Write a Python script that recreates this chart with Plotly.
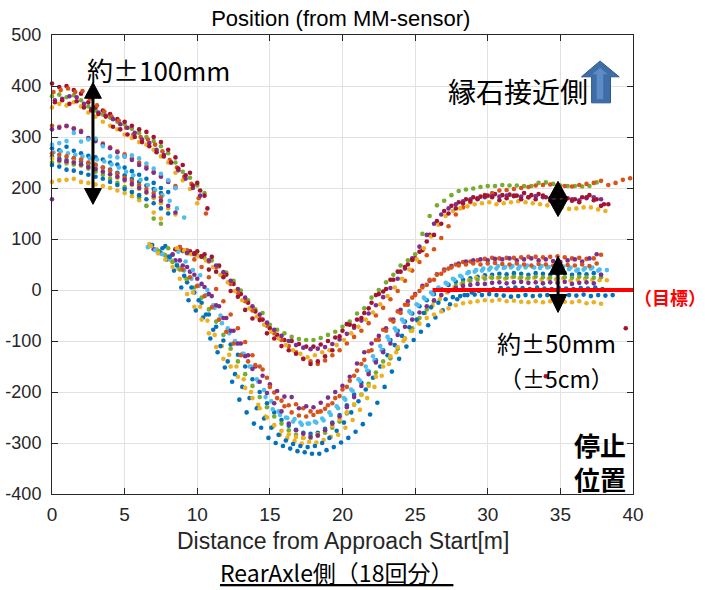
import plotly.graph_objects as go

STEP = 0.5  # sampling interval of the logged positions [m]

# MATLAB default colour order
BLUE, ORANGE, YELLOW, PURPLE = "#0072BD", "#D95319", "#EDB120", "#7E2F8E"
GREEN, LIGHTBLUE, DARKRED = "#77AC30", "#4DBEEE", "#A2142F"

# ---------------- axis ticks ----------------
x_ticks = [0, 5, 10, 15, 20, 25, 30, 35, 40]
y_ticks = [500, 400, 300, 200, 100, 0, -100, -200, -300, -400]
y_tick_labels = ["500", "400", "300", "200", "100", "0", "-100", "-200", "-300", "-400"]

# ---------------- runs ending near +200 (upper group) ----------------
# segment A: start x0, values every STEP ; segment B: start x0, values every STEP
u_green_a_x0 = 0.0
u_green_a = [380, 383, 378, 382, 372, 360, 352, 344, 338, 330, 325, 316, 308, 300, 292, 282, 268, 250, 232, 220, 205, 190]
u_green_b_x0 = 8.0
u_green_b = [82, 80, 76, 72, 68, 63, 58, 46, 34, 18, -1, -20, -38, -45, -68, -78, -85, -92, -96, -98,
             -98, -94, -88, -82, -72, -62, -46, -36, -15, 0, 15, 30, 48, 58, 70, 110, 145, 166, 175, 186,
             194, 197, 199, 202, 204, 204, 206, 205, 205, 204, 204, 210, 211, 208, 205, 204, 204, 203, 204, 211]

u_darkred1_a_x0 = 0.0
u_darkred1_a = [405, 398, 400, 392, 385, 368, 358, 352, 345, 335, 330, 322, 315, 310, 300, 290, 275, 260, 245, 230, 210, 185]
u_darkred1_b_x0 = 8.5
u_darkred1_b = [80, 78, 76, 76, 70, 65, 48, 30, 12, -8, -25, -42, -58, -75, -88, -98, -100, -106, -111, -111,
                -107, -100, -93, -80, -68, -58, -45, -25, -8, 2, 20, 36, 50, 62, 78, 108, 135, 155, 165, 172,
                178, 182, 183, 185, 188, 186, 187, 185, 190, 186, 188, 182, 184, 186, 180, 178, 182, 186, 178, 168]

u_darkred2_a_x0 = 0.2
u_darkred2_a = [368, 372, 365, 370, 358, 352, 345, 340, 320, 315, 305, 300, 290, 282, 270, 262, 250, 238, 225, 205, 195, 160]
u_darkred2_b_x0 = 9.8
u_darkred2_b = [72, 66, 40, 36, 25, -2, -13, -39, -56, -59, -85, -95, -110, -118, -125, -135, -145, -140, -130, -118,
                -91, -67, -70, -55, -36, -10, -3, 20, 36, 45, 59, 75, 95, 108, 130, 150, 160, 170, 175, 178,
                185, 182, 176, 180, 185, 178, 182, 178, 185, 175, 170, 178, 175, 172, 182, 176, 165, 168]
u_darkred2_extra_x = [34.0, 39.5]
u_darkred2_extra_y = [-169, -75]

u_orange_a_x0 = 0.1
u_orange_a = [388, 392, 395, 388, 390, 375, 362, 350, 340, 332, 318, 305, 300, 295, 285, 272, 255, 240, 222, 208, 180, 150]
u_orange_b_x0 = 8.8
u_orange_b = [84, 78, 72, 65, 56, 45, 30, 12, -5, -22, -40, -55, -70, -85, -98, -110, -122, -135, -140, -145,
              -138, -128, -118, -105, -92, -80, -65, -50, -35, -18, -2, 18, 38, 55, 68, 80, 102, 125, 148, 162,
              172, 180, 186, 190, 195, 196, 198, 200, 202, 205, 206, 207, 205, 204, 203, 206, 208, 210, 214, 206,
              210, 216, 219]

u_yellow_a_x0 = 0.0
u_yellow_a = [358, 365, 362, 368, 360, 348, 340, 330, 322, 315, 305, 298, 290, 285, 275, 262, 250, 230, 215, 198, 170]
u_yellow_b_x0 = 8.6
u_yellow_b = [82, 78, 70, 66, 58, 45, 30, 15, -2, -20, -36, -52, -68, -82, -95, -108, -118, -125, -132, -128,
              -122, -118, -108, -98, -85, -72, -58, -44, -28, -12, 5, 22, 40, 60, 82, 105, 128, 145, 155, 160,
              164, 168, 170, 172, 168, 170, 172, 174, 172, 170, 168, 166, 165, 162, 159, 160, 162, 162, 158, 155]

u_purple_a_x0 = 0.2
u_purple_a = [372, 375, 380, 378, 365, 355, 348, 342, 335, 325, 318, 308, 295, 288, 275, 265, 250, 235, 218, 200, 185]
u_purple_b_x0 = 9.3
u_purple_b = [73, 70, 66, 58, 48, 35, 18, 2, -15, -32, -48, -64, -78, -90, -100, -108, -113, -116, -115, -112,
              -106, -97, -86, -74, -60, -46, -30, -14, 4, 22, 42, 62, 85, 108, 130, 148, 160, 168, 174, 178,
              180, 182, 184, 183, 185, 184, 183, 182, 184, 182, 180, 178, 180, 178, 176, 180, 182, 178]

# ---------------- runs ending near 0 (lower group) ----------------
l_purple1_a_x0 = 0.0
l_purple1_a = [315, 318, 322, 316, 310, 298, 292, 285, 278, 270, 262, 255, 245, 238, 230, 222, 212, 200]
l_purple1_b_x0 = 7.0
l_purple1_b = [80, 72, 65, 58, 48, 36, 22, 6, -12, -32, -55, -80, -105, -128, -150, -168, -185, -198, -209, -210,
               -232, -228, -230, -221, -211, -200, -188, -170, -144, -122, -105, -90, -75, -58, -39, -22, -8, 8, 18, 31,
               40, 47, 52, 56, 58, 60, 58, 61, 60, 62, 58, 60, 62, 58, 60, 57, 55, 58, 60, 56, 62, 70]

l_orange1_a_x0 = 0.0
l_orange1_a = [322, 320, 321, 317, 312, 297, 295, 287, 280, 272, 266, 258, 250, 242, 232, 224, 214, 204]
l_orange1_b_x0 = 8.8
l_orange1_b = [84, 72, 60, 45, 25, 2, -22, -48, -75, -102, -128, -150, -172, -201, -217, -226, -224, -232, -238, -239,
               -233, -222, -208, -190, -168, -145, -120, -98, -78, -58, -42, -29, -15, -2, 10, 20, 32, 42, 50, 55,
               56, 58, 61, 63, 62, 63, 63, 64, 65, 65, 64, 65, 66, 64, 62, 63, 61, 62, 69]

l_lightblue1_a_x0 = 0.0
l_lightblue1_a = [285, 288, 292, 308, 291, 295, 297, 282, 262, 260, 262, 264, 258, 248, 238, 228, 215, 200]
l_lightblue1_b_x0 = 8.7
l_lightblue1_b = [75, 56, 39, 29, 0, -35, -65, -85, -105, -125, -150, -180, -210, -234, -245, -251, -253, -264, -262, -260,
                  -256, -245, -232, -215, -198, -178, -158, -138, -118, -98, -80, -62, -45, -30, -18, -8, 2, 12, 20, 26,
                  35, 39, 42, 44, 47, 45, 47, 46, 48, 44, 47, 45, 42, 46, 44, 40, 43, 44, 40, 39]

l_lightblue2_a_x0 = 0.1
l_lightblue2_a = [270, 272, 268, 265, 262, 258, 256, 252, 246, 240, 232, 225, 216, 206, 196, 186, 175, 160, 142]
l_lightblue2_b_x0 = 6.6
l_lightblue2_b = [84, 78, 70, 62, 50, 38, 22, 8, -10, -30, -50, -75, -100, -125, -150, -175, -196, -218, -238, -250,
                  -258, -260, -262, -258, -252, -240, -228, -212, -195, -175, -150, -130, -110, -92, -75, -58, -42, -28, -15, -5,
                  5, 14, 22, 28, 33, 36, 38, 40, 42, 43, 44, 42, 44, 45, 43, 44, 40, 42, 41, 38, 40, 42, 38]

l_green_a_x0 = 0.0
l_green_a = [250, 252, 248, 246, 244, 238, 232, 226, 218, 210, 202, 192, 182, 165, 140, 130]
l_green_b_x0 = 7.3
l_green_b = [77, 68, 55, 40, 22, 5, -15, -38, -62, -88, -115, -140, -165, -188, -210, -230, -248, -262, -275, -284,
             -290, -290, -286, -280, -270, -258, -242, -225, -205, -184, -162, -140, -134, -115, -95, -75, -55, -38, -22, -10,
             0, 8, 14, 18, 20, 22, 24, 25, 24, 26, 25, 24, 26, 25, 24, 23, 25, 24, 26, 25, 24, 25]

l_yellow1_a_x0 = 0.0
l_yellow1_a = [212, 215, 216, 218, 212, 210, 207, 204, 200, 195, 190, 184, 176, 165, 152, 140]
l_yellow1_b_x0 = 6.7
l_yellow1_b = [90, 80, 70, 58, 42, 22, -5, -33, -60, -88, -110, -127, -150, -175, -200, -225, -248, -268, -284, -290,
               -296, -301, -298, -299, -294, -288, -284, -270, -255, -235, -212, -190, -168, -145, -122, -100, -80, -62, -45, -30,
               -18, -5, 5, 12, 19, 24, 25, 25, 24, 22, 25, 23, 22, 24, 20, 22, 21, 23, 18, 20, 22, 20, 19, 19]

l_purple2_a_x0 = 0.0
l_purple2_a = [178, 255, 252, 250, 246, 241, 237, 232, 227, 222, 216, 208, 200, 192, 184, 175, 165, 152]
l_purple2_b_x0 = 8.3
l_purple2_b = [70, 58, 45, 30, 12, -8, -30, -55, -80, -105, -130, -155, -180, -202, -222, -238, -262, -275, -282, -288,
               -285, -275, -262, -248, -230, -210, -188, -165, -142, -122, -105, -88, -72, -58, -44, -32, -20, -10, -2, 4,
               8, 10, 12, 12, 14, 15, 13, 15, 16, 14, 15, 13, 15, 14, 16, 12, 14, 15, 13, 30]

l_blue1_a_x0 = 0.0
l_blue1_a = [278, 274, 281, 273, 268, 263, 260, 256, 250, 246, 240, 233, 226, 218, 210, 200, 192]
l_blue1_b_x0 = 7.8
l_blue1_b = [86, 69, 42, 15, -5, -25, -48, -72, -99, -107, -127, -150, -175, -200, -222, -240, -255, -266, -274, -280,
             -282, -280, -272, -260, -245, -226, -205, -182, -160, -138, -118, -98, -80, -62, -46, -32, -20, -8, 2, 10,
             16, 20, 23, 26, 29, 30, 32, 31, 33, 32, 30, 33, 32, 30, 31, 33, 30, 32, 31, 33, 30]

l_blue2_a_x0 = 0.0
l_blue2_a = [262, 258, 255, 258, 252, 248, 244, 240, 236, 230, 225, 218, 212, 205, 198, 190]
l_blue2_b_x0 = 6.9
l_blue2_b = [88, 75, 60, 38, 5, -20, -40, -54, -95, -122, -152, -180, -215, -240, -262, -270, -290, -300, -306, -311,
             -316, -318, -321, -321, -314, -308, -299, -290, -278, -263, -244, -221, -190, -160, -135, -111, -98, -82, -69, -54,
             -40, -28, -18, -10, -5, -2, 0, 2, 4, 3, 5, 4, 2, 5, 3, 2, 4, 3, 2, 4, 3, 5, 2, 0]

l_blue3_a_x0 = 0.0
l_blue3_a = [245, 242, 236, 234, 230, 226, 222, 218, 212, 206, 198, 192, 186, 178, 170, 160, 150]
l_blue3_b_x0 = 7.6
l_blue3_b = [82, 65, 48, 28, 5, -20, -48, -78, -110, -140, -165, -190, -212, -232, -252, -270, -284, -295, -302, -306,
             -308, -306, -300, -290, -276, -260, -240, -218, -195, -172, -150, -128, -108, -90, -73, -58, -45, -34, -25, -18,
             -14, -12, -10, -9, -10, -8, -10, -11, -13, -12, -10, -12, -11, -10, -13, -12, -10, -11, -9, -12, -10, -11, -10]

l_yellow2_a_x0 = 0.0
l_yellow2_a = [258, 255, 250, 252, 246, 242, 238, 232, 226, 220, 214, 206, 198, 190, 180, 170, 160, 148]
l_yellow2_b_x0 = 6.8
l_yellow2_b = [86, 72, 60, 45, 22, -8, -33, -58, -85, -112, -135, -150, -170, -192, -212, -232, -250, -265, -276, -283,
               -288, -290, -288, -283, -276, -266, -254, -240, -224, -206, -188, -170, -150, -130, -112, -95, -80, -66, -55, -48,
               -42, -36, -30, -26, -24, -22, -20, -21, -19, -22, -21, -23, -24, -22, -24, -22, -25, -23, -24, -22, -26, -24, -27]

l_orange2_a_x0 = 0.0
l_orange2_a = [268, 265, 262, 258, 256, 250, 246, 240, 234, 228, 220, 214, 206, 198, 190, 182]
l_orange2_b_x0 = 9.0
l_orange2_b = [40, 25, 8, -12, -34, -58, -82, -105, -128, -140, -147, -156, -190, -212, -228, -240, -246, -248, -245, -238,
               -226, -212, -195, -178, -158, -137, -118, -98, -80, -62, -45, -29, -10, 5, 20, 30, 38, 44, 48, 50,
               52, 50, 52, 53, 51, 50, 52, 50, 48, 51, 50, 48, 50, 49, 48, 50, 47, 52]

runs = [
    (BLUE, l_blue1_a_x0, l_blue1_a, l_blue1_b_x0, l_blue1_b, [], []),
    (ORANGE, l_orange1_a_x0, l_orange1_a, l_orange1_b_x0, l_orange1_b, [], []),
    (YELLOW, l_yellow1_a_x0, l_yellow1_a, l_yellow1_b_x0, l_yellow1_b, [], []),
    (PURPLE, l_purple1_a_x0, l_purple1_a, l_purple1_b_x0, l_purple1_b, [], []),
    (GREEN, u_green_a_x0, u_green_a, u_green_b_x0, u_green_b, [], []),
    (LIGHTBLUE, l_lightblue1_a_x0, l_lightblue1_a, l_lightblue1_b_x0, l_lightblue1_b, [], []),
    (DARKRED, u_darkred1_a_x0, u_darkred1_a, u_darkred1_b_x0, u_darkred1_b, [], []),
    (BLUE, l_blue2_a_x0, l_blue2_a, l_blue2_b_x0, l_blue2_b, [], []),
    (ORANGE, u_orange_a_x0, u_orange_a, u_orange_b_x0, u_orange_b, [], []),
    (YELLOW, u_yellow_a_x0, u_yellow_a, u_yellow_b_x0, u_yellow_b, [], []),
    (PURPLE, u_purple_a_x0, u_purple_a, u_purple_b_x0, u_purple_b, [], []),
    (GREEN, l_green_a_x0, l_green_a, l_green_b_x0, l_green_b, [], []),
    (LIGHTBLUE, l_lightblue2_a_x0, l_lightblue2_a, l_lightblue2_b_x0, l_lightblue2_b, [], []),
    (DARKRED, u_darkred2_a_x0, u_darkred2_a, u_darkred2_b_x0, u_darkred2_b, u_darkred2_extra_x, u_darkred2_extra_y),
    (BLUE, l_blue3_a_x0, l_blue3_a, l_blue3_b_x0, l_blue3_b, [], []),
    (ORANGE, l_orange2_a_x0, l_orange2_a, l_orange2_b_x0, l_orange2_b, [], []),
    (YELLOW, l_yellow2_a_x0, l_yellow2_a, l_yellow2_b_x0, l_yellow2_b, [], []),
    (PURPLE, l_purple2_a_x0, l_purple2_a, l_purple2_b_x0, l_purple2_b, [], []),
]

fig = go.Figure()
for color, ax0, ay, bx0, by, ex, ey in runs:
    xs = [round(ax0 + STEP * i, 2) for i in range(len(ay))]
    xs += [round(bx0 + STEP * i, 2) for i in range(len(by))] + list(ex)
    ys = list(ay) + list(by) + list(ey)
    fig.add_trace(go.Scatter(x=xs, y=ys, mode="markers", cliponaxis=False, showlegend=False,
                             marker=dict(color=color, size=4.6, line=dict(width=0))))

# ---------------- decorations ----------------
shapes = []
# target line
shapes.append(dict(type="line", xref="x", yref="y", x0=26.2, x1=40, y0=0, y1=0,
                   line=dict(color="#FF0000", width=4)))


def double_arrow(x, y_top, y_bot, head_len, half_w):
    out = [dict(type="line", xref="x", yref="y", x0=x, x1=x, y0=y_top - head_len * 0.5,
                y1=y_bot + head_len * 0.5, line=dict(color="black", width=3))]
    out.append(dict(type="path", xref="x", yref="y", fillcolor="black", line=dict(color="black", width=1),
                    path=f"M{x},{y_top} L{x - half_w},{y_top - head_len} L{x + half_w},{y_top - head_len} Z"))
    out.append(dict(type="path", xref="x", yref="y", fillcolor="black", line=dict(color="black", width=1),
                    path=f"M{x},{y_bot} L{x - half_w},{y_bot + head_len} L{x + half_w},{y_bot + head_len} Z"))
    return out


shapes += double_arrow(2.82, 407, 168, 31, 0.58)
shapes += double_arrow(34.84, 213, 144, 33, 0.64)
shapes += double_arrow(34.84, 66, -44, 35, 0.6)

# blue block arrow (curb side)
shapes.append(dict(type="path", xref="x", yref="y", fillcolor="#3F6EA6", line=dict(color="#2F5A8C", width=1),
                   path="M37.73,449 L36.45,418 L37.15,418 L37.15,367 L38.45,367 L38.45,418 L39.05,418 Z"))
shapes.append(dict(type="path", xref="x", yref="y", fillcolor="#5C8CC6", line=dict(width=0),
                   path="M37.73,436 L37.2,423 L37.5,423 L37.5,374 L37.95,374 L37.95,423 L38.25,423 Z"))

JP = "Noto Sans CJK JP, Noto Sans CJK SC, sans-serif"
annotations = [
    dict(text="約±100mm", xref="paper", yref="paper", x=0.057, y=0.924, xanchor="left", yanchor="middle",
         showarrow=False, font=dict(family=JP, size=26, color="black")),
    dict(text="縁石接近側", xref="paper", yref="paper", x=0.678, y=0.878, xanchor="left", yanchor="middle",
         showarrow=False, font=dict(family=JP, size=28, color="black")),
    dict(text="約±50mm", xref="paper", yref="paper", x=0.762, y=0.331, xanchor="left", yanchor="middle",
         showarrow=False, font=dict(family=JP, size=24, color="black")),
    dict(text="（±5cm）", xref="paper", yref="paper", x=0.869, y=0.253, xanchor="center", yanchor="middle",
         showarrow=False, font=dict(family=JP, size=23, color="black")),
    dict(text="<b>停止</b><br><b>位置</b>", xref="paper", yref="paper", x=0.992, y=0.07, xanchor="right",
         yanchor="middle", align="right", showarrow=False, font=dict(family=JP, size=26, color="black")),
    dict(text="<b>（目標）</b>", xref="paper", yref="paper", x=0.9983, y=0.429, xanchor="left", yanchor="middle",
         showarrow=False, font=dict(family=JP, size=18, color="#FF0000")),
    dict(text="Distance from Approach Start[m]", xref="paper", yref="paper", x=0.5, y=-0.1024,
         xanchor="center", yanchor="middle", showarrow=False,
         font=dict(family="Liberation Sans, Arial, sans-serif", size=23, color="#262626")),
    dict(text="<u>RearAxle側（18回分）</u>", xref="paper", yref="paper", x=0.49, y=-0.17,
         xanchor="center", yanchor="middle", showarrow=False, font=dict(family=JP, size=23, color="black")),
]

fig.update_layout(
    width=705, height=590,
    margin=dict(l=52, r=72, t=35, b=96, autoexpand=False),
    paper_bgcolor="white", plot_bgcolor="white",
    showlegend=False,
    font=dict(family="Liberation Sans, Arial, sans-serif", color="#262626"),
    title=dict(text="Position (from MM-sensor)", x=0.497, xref="paper", y=1 - 18 / 590, yref="container",
               xanchor="center", yanchor="middle", font=dict(size=22, color="black")),
    shapes=shapes,
    annotations=annotations,
)
fig.update_xaxes(range=[0, 40], tickvals=x_ticks, ticks="inside", ticklen=6, tickcolor="#262626",
                 showline=True, linecolor="#262626", linewidth=1, mirror="ticks", automargin=False,
                 showgrid=True, gridcolor="#E2E2E2", gridwidth=1, zeroline=False, ticklabelstandoff=3,
                 tickfont=dict(size=19, family="Liberation Sans Narrow, Arial Narrow, sans-serif", color="#262626"))
fig.update_yaxes(range=[-400, 500], tickvals=y_ticks, ticktext=y_tick_labels, ticks="inside", ticklen=6,
                 tickcolor="#262626", showline=True, linecolor="#262626", linewidth=1, mirror="ticks",
                 automargin=False,
                 showgrid=True, gridcolor="#E2E2E2", gridwidth=1, zeroline=False, ticklabelstandoff=6,
                 tickfont=dict(size=18, color="#262626"))

fig.write_html("out.html", config={"displayModeBar": False},
               post_script="document.body.style.margin='0px';document.body.style.padding='0px';")
